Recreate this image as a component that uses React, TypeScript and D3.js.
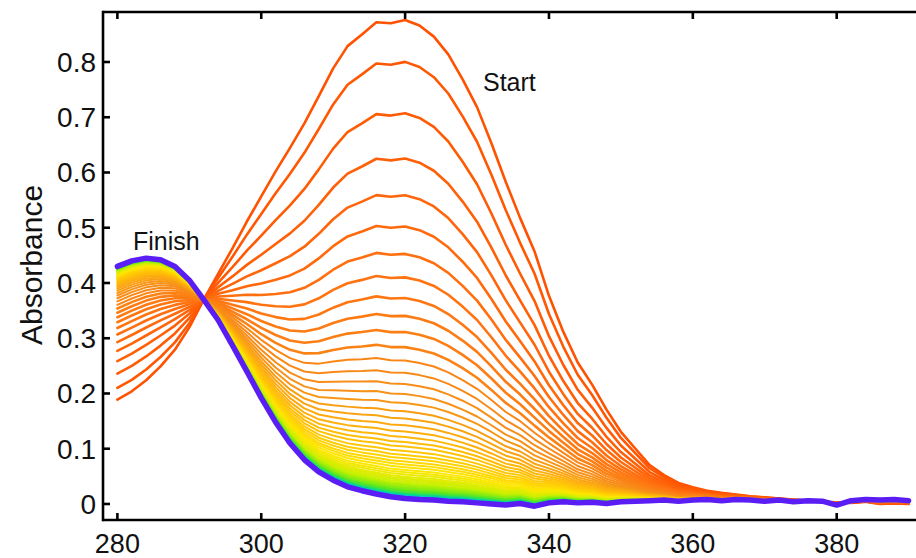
import React from "react";
import * as d3 from "d3";

// Wavelength grid (nm)
const WAVELENGTHS: number[] = d3.range(280, 392, 2);

// "Start" spectrum (absorbance at each wavelength)
const START: number[] = [
  0.19, 0.205, 0.225, 0.25, 0.28, 0.32, 0.37, 0.416, 0.462, 0.51,
  0.555, 0.6, 0.642, 0.686, 0.735, 0.785, 0.825, 0.846, 0.868, 0.866,
  0.872, 0.862, 0.842, 0.81, 0.765, 0.715, 0.65, 0.58, 0.515, 0.455,
  0.375, 0.31, 0.255, 0.215, 0.17, 0.13, 0.1, 0.07, 0.052, 0.038,
  0.03, 0.024, 0.02, 0.017, 0.014, 0.012, 0.01, 0.008, 0.006, 0.004,
  0.003, 0.002, 0.004, 0.0, 0.001, 0.0,
];

// "Finish" spectrum
const FINISH: number[] = [
  0.43, 0.44, 0.445, 0.442, 0.43, 0.405, 0.37, 0.333, 0.287, 0.24,
  0.192, 0.148, 0.11, 0.08, 0.058, 0.043, 0.031, 0.024, 0.018, 0.013,
  0.01, 0.008, 0.007, 0.005, 0.004, 0.002, 0.0, -0.002, 0.001, -0.004,
  0.002, 0.004, 0.002, 0.003, 0.001, 0.004, 0.005, 0.006, 0.007, 0.005,
  0.007, 0.008, 0.006, 0.008, 0.007, 0.005, 0.007, 0.004, 0.006, 0.005,
  -0.002, 0.006, 0.008, 0.007, 0.008, 0.006,
];

const PEAKS_318: number[] = [
  0.87, 0.795, 0.703, 0.622, 0.556, 0.5, 0.451, 0.409, 0.372, 0.34,
  0.311, 0.284, 0.26, 0.238, 0.218, 0.2, 0.184, 0.169, 0.156, 0.144,
  0.133, 0.123, 0.114, 0.106, 0.098, 0.091, 0.085, 0.079, 0.074, 0.069,
  0.064, 0.06, 0.056, 0.052, 0.049, 0.046, 0.043, 0.04, 0.038, 0.036,
  0.034, 0.032, 0.03, 0.028, 0.027, 0.026, 0.024, 0.023, 0.022, 0.021,
  0.02, 0.0195, 0.019, 0.018, 0.0175, 0.017, 0.0165, 0.016, 0.0157, 0.0154,
  0.015, 0.0147, 0.0145, 0.0142, 0.014, 0.0138, 0.0136, 0.0135, 0.0134, 0.0133,
  0.0132, 0.0131, 0.013, 0.013, 0.013,
];

const X_TICKS: number[] = [280, 300, 320, 340, 360, 380];
const Y_TICKS: number[] = [0, 0.1, 0.2, 0.3, 0.4, 0.5, 0.6, 0.7, 0.8];
const Y_TICK_LABELS: string[] = ["0", "0.1", "0.2", "0.3", "0.4", "0.5", "0.6", "0.7", "0.8"];

const COLOR_STOPS = ["#ff5200", "#ff7512", "#f79018", "#ffbe08", "#ffe600", "#c6f000", "#5fe81e", "#00d890", "#00b8ff", "#2a48ff", "#5a1ef5"];

const FONT = "'Liberation Sans', Arial, Helvetica, sans-serif";

export default function App() {
  const W = 916, H = 558;
  const left = 103, right = 923, top = 12, bottom = 520;
  const x = d3.scaleLinear().domain([278, 392]).range([left, right]);
  const y = d3.scaleLinear().domain([-0.029, 0.8905]).range([bottom, top]);

  const iPeak = WAVELENGTHS.indexOf(318);
  const s318 = START[iPeak], f318 = FINISH[iPeak];
  const N = PEAKS_318.length;
  const color = d3.scaleLinear<string>()
    .domain(COLOR_STOPS.map((_, i) => (i / (COLOR_STOPS.length - 1)) * (N - 1)))
    .range(COLOR_STOPS)
    .interpolate(d3.interpolateRgb);

  const line = d3.line<number>()
    .x((_, i) => x(WAVELENGTHS[i]))
    .y((v) => y(v));

  const curves = PEAKS_318.map((p, k) => {
    const f = (p - f318) / (s318 - f318);
    const vals = WAVELENGTHS.map((_, i) => FINISH[i] + f * (START[i] - FINISH[i]));
    return { k, d: line(vals) as string, c: color(k) };
  });

  const widthFor = (k: number) => (k === N - 1 ? 5.5 : k > N - 6 ? 3.5 : k < 12 ? 2.6 : 2.0);

  const tick = 7;
  return (
    <svg width={W} height={H} style={{ position: "absolute", left: 0, top: 0, background: "#fff" }}>
      <rect x={0} y={0} width={W} height={H} fill="#fff" />
      <g fill="none" strokeLinejoin="round" strokeLinecap="round">
        {curves.map((c) => (
          <path key={c.k} d={c.d} stroke={c.c} strokeWidth={widthFor(c.k)} />
        ))}
      </g>
      {/* frame */}
      <g stroke="#000" strokeWidth={2.6} fill="none">
        <line x1={left} y1={top} x2={right} y2={top} />
        <line x1={left} y1={bottom} x2={right} y2={bottom} />
        <line x1={left} y1={top - 1.3} x2={left} y2={bottom + 1.3} />
        <line x1={right} y1={top} x2={right} y2={bottom} />
        {X_TICKS.map((t) => (
          <g key={"xt" + t}>
            <line x1={x(t)} y1={bottom} x2={x(t)} y2={bottom - tick} />
            <line x1={x(t)} y1={top} x2={x(t)} y2={top + tick} />
          </g>
        ))}
        {Y_TICKS.map((t) => (
          <g key={"yt" + t}>
            <line x1={left} y1={y(t)} x2={left + tick} y2={y(t)} />
            <line x1={right} y1={y(t)} x2={right - tick} y2={y(t)} />
          </g>
        ))}
      </g>
      <g fontFamily={FONT} fontSize={27} fill="#111">
        {X_TICKS.map((t) => (
          <text key={"xl" + t} x={x(t)} y={553} textAnchor="middle">{t}</text>
        ))}
        {Y_TICKS.map((t, i) => (
          <text key={"yl" + t} x={96} y={y(t) + 10} textAnchor="end" fontSize={28}>{Y_TICK_LABELS[i]}</text>
        ))}
        <text transform={`translate(42,265) rotate(-90)`} textAnchor="middle" fontSize={30}>Absorbance</text>
      </g>
      <g fontFamily={FONT} fontSize={25} fill="#111">
        <text x={483} y={91}>Start</text>
        <text x={133} y={250}>Finish</text>
      </g>
    </svg>
  );
}
